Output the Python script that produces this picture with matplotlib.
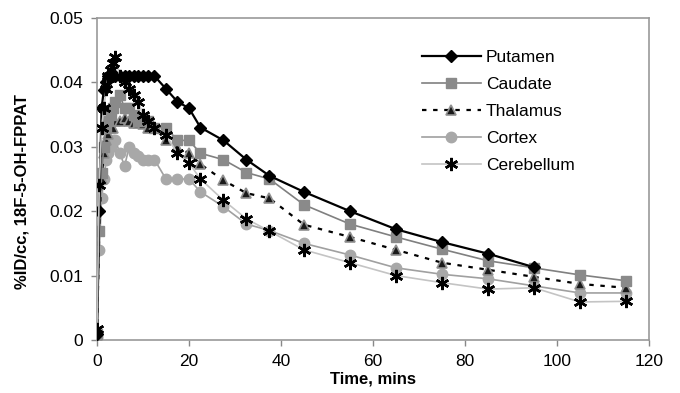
import numpy as np
import matplotlib
matplotlib.use("Agg")
import matplotlib.pyplot as plt

plt.rcParams['font.family'] = ['Liberation Sans', 'DejaVu Sans']

# frame mid-times (mins)
times = [0, 0.5, 1, 1.5, 2, 2.5, 3, 3.5, 4, 5, 6, 7, 8, 9, 10, 11, 12.5,
         15, 17.5, 20, 22.5, 27.5, 32.5, 37.5, 45, 55, 65, 75, 85, 95, 105, 115]

putamen = [0.001, 0.020, 0.036, 0.0388, 0.040, 0.041, 0.041, 0.041, 0.041, 0.041,
           0.041, 0.041, 0.041, 0.041, 0.041, 0.041, 0.041, 0.039, 0.037, 0.036,
           0.033, 0.031, 0.028, 0.0255, 0.023, 0.020, 0.0172, 0.0152, 0.0134,
           0.0113, np.nan, np.nan]
caudate = [0.001, 0.017, 0.026, 0.030, 0.033, 0.034, 0.035, 0.036, 0.037, 0.038,
           0.036, 0.036, 0.035, 0.034, 0.034, 0.034, 0.033, 0.033, 0.031, 0.031,
           0.029, 0.028, 0.026, 0.025, 0.021, 0.018, 0.016, 0.0141, 0.0123,
           0.0112, 0.0101, 0.0092]
thalamus = [0.0008, 0.017, 0.025, 0.029, 0.031, 0.032, 0.033, 0.033, 0.034, 0.034,
            0.0345, 0.034, 0.0337, 0.0337, 0.0335, 0.033, 0.033, 0.031, 0.030, 0.029,
            0.0273, 0.0248, 0.0228, 0.022, 0.0179, 0.016, 0.014, 0.012, 0.0109,
            0.0098, 0.0087, 0.0081]
cortex = [0.0005, 0.014, 0.022, 0.025, 0.028, 0.029, 0.030, 0.031, 0.031, 0.029,
          0.027, 0.030, 0.029, 0.0285, 0.028, 0.028, 0.028, 0.025, 0.025, 0.025,
          0.023, 0.0207, 0.018, 0.017, 0.015, 0.0132, 0.0112, 0.0102, 0.0095,
          0.0084, 0.0073, 0.0073]
cerebellum = [0.0017, 0.024, 0.033, 0.036, 0.039, 0.041, 0.042, 0.043, 0.044, 0.041,
              0.040, 0.039, 0.038, 0.037, 0.035, 0.034, 0.033, 0.0318, 0.029, 0.0275,
              0.025, 0.0217, 0.0188, 0.0169, 0.014, 0.012, 0.010, 0.0089, 0.0079,
              0.0081, 0.0059, 0.006]

xticks = [0, 20, 40, 60, 80, 100, 120]
yticks = [0, 0.01, 0.02, 0.03, 0.04, 0.05]
ytick_labels = ['0', '0.01', '0.02', '0.03', '0.04', '0.05']

fig = plt.figure(figsize=(6.8, 3.93), dpi=100)
ax = fig.add_axes([0.1426, 0.135, 0.8118, 0.819])

ax.plot(times, putamen, color='black', lw=1.6, marker='D', ms=6.5,
        mfc='black', mec='black', label='Putamen', zorder=6)
ax.plot(times, caudate, color='#808080', lw=1.2, marker='s', ms=7,
        mfc='#8a8a8a', mec='#8a8a8a', label='Caudate', zorder=5)
ax.plot(times, thalamus, color='black', lw=1.6, ls=(0, (2, 3)), marker='^', ms=6.5,
        mfc='#1a1a1a', mec='#909090', mew=1.2, label='Thalamus', zorder=4)
ax.plot(times, cortex, color='#a0a0a0', lw=1.2, marker='o', ms=7.5,
        mfc='#a8a8a8', mec='#a8a8a8', label='Cortex', zorder=3)
ax.plot(times, cerebellum, color='#c4c4c4', lw=1.2, marker=(6, 2, 0), ms=9.5,
        mfc='black', mec='black', mew=1.8, label='Cerebellum', zorder=7)

ax.set_xlim(0, 120)
ax.set_ylim(0, 0.05)
ax.set_xticks(xticks)
ax.set_xticklabels([str(v) for v in xticks])
ax.set_yticks(yticks)
ax.set_yticklabels(ytick_labels)
ax.tick_params(direction='out', length=4, width=1, color='#888888',
               labelsize=12.5, pad=6)

for s in ax.spines.values():
    s.set_color('#999999')
    s.set_linewidth(1.2)

ax.set_xlabel('Time, mins', fontsize=12, fontweight='bold', labelpad=2)
ax.set_ylabel('%ID/cc, 18F-5-OH-FPPAT', fontsize=12, fontweight='bold')
ax.yaxis.set_label_coords(-0.122, 0.46)

ax.legend(loc='upper left', bbox_to_anchor=(0.61, 0.89), bbox_transform=fig.transFigure,
          frameon=False, fontsize=12.5, handlelength=3.4, handletextpad=0.3,
          labelspacing=0.68, borderaxespad=0)

plt.savefig('out.png', dpi=100)
